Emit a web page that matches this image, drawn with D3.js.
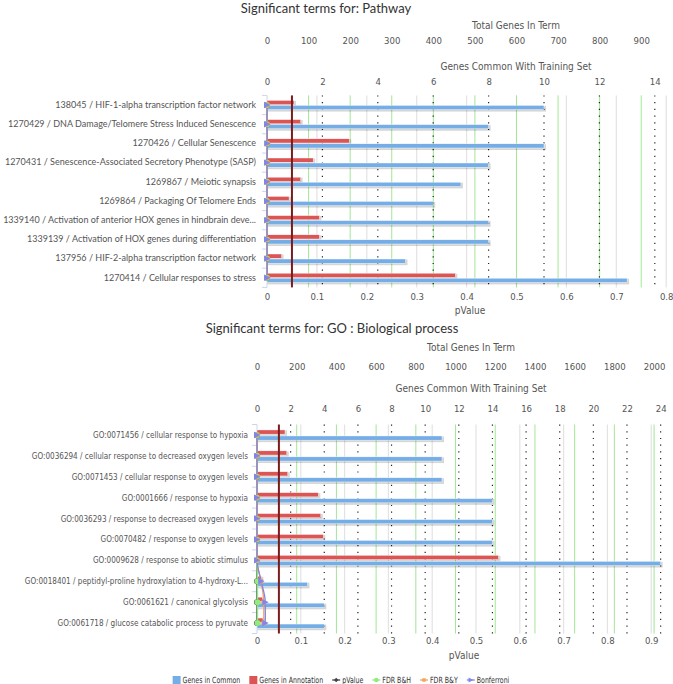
<!DOCTYPE html>
<html><head><meta charset="utf-8">
<script src="https://cdn.jsdelivr.net/npm/d3@7"></script>
<style>
body{margin:0;background:#fff;}
svg{display:block;}
.title{font-family:Lato,"Open Sans",sans-serif;font-size:13px;fill:#333;}
.lab{font-family:Lato,"Open Sans",sans-serif;fill:#333;}
.narrow{font-family:"Liberation Sans Narrow","Arial Narrow","DejaVu Sans Condensed",sans-serif;}
.tick text{fill:#555;}
</style></head><body>
<svg id="c" width="673" height="684"></svg>
<script>
// ---------- DATA ----------
const topTerms = [
  "138045 / HIF-1-alpha transcription factor network",
  "1270429 / DNA Damage/Telomere Stress Induced Senescence",
  "1270426 / Cellular Senescence",
  "1270431 / Senescence-Associated Secretory Phenotype (SASP)",
  "1269867 / Meiotic synapsis",
  "1269864 / Packaging Of Telomere Ends",
  "1339140 / Activation of anterior HOX genes in hindbrain deve...",
  "1339139 / Activation of HOX genes during differentiation",
  "137956 / HIF-2-alpha transcription factor network",
  "1270414 / Cellular responses to stress"
];
const topCommon = [10, 8, 10, 8, 7, 6, 8, 8, 5, 13];
const topTotal = [65, 81, 198, 111, 81, 53, 126, 126, 35, 453];
const topPValue = [1e-7, 4e-7, 6e-6, 8e-7, 5e-7, 3e-7, 1e-6, 1e-6, 2e-6, 3e-6];
const topFdrBH = [4e-6, 5e-6, 2e-5, 5e-6, 5e-6, 4e-6, 6e-6, 6e-6, 1e-5, 1.5e-5];
const topFdrBY = [3e-5, 4e-5, 1e-4, 4e-5, 4e-5, 3e-5, 5e-5, 5e-5, 8e-5, 1e-4];
const topBonferroni = [1e-5, 4e-5, 6e-4, 8e-5, 5e-5, 3e-5, 1e-4, 1e-4, 2e-4, 3e-4];
const topTotalTicks = [0, 100, 200, 300, 400, 500, 600, 700, 800, 900];
const topCommonTicks = [0, 2, 4, 6, 8, 10, 12, 14];
const topPTicks = [0, 0.1, 0.2, 0.3, 0.4, 0.5, 0.6, 0.7, 0.8];

const botTerms = [
  "GO:0071456 / cellular response to hypoxia",
  "GO:0036294 / cellular response to decreased oxygen levels",
  "GO:0071453 / cellular response to oxygen levels",
  "GO:0001666 / response to hypoxia",
  "GO:0036293 / response to decreased oxygen levels",
  "GO:0070482 / response to oxygen levels",
  "GO:0009628 / response to abiotic stimulus",
  "GO:0018401 / peptidyl-proline hydroxylation to 4-hydroxy-L...",
  "GO:0061621 / canonical glycolysis",
  "GO:0061718 / glucose catabolic process to pyruvate"
];
const botCommon = [11, 11, 11, 14, 14, 14, 24, 3, 4, 4];
const botTotal = [141, 150, 155, 309, 321, 334, 1216, 22, 28, 30];
const botPValue = [1e-9, 1e-9, 2e-9, 3e-9, 4e-9, 5e-9, 8e-9, 2e-5, 5e-5, 5e-5];
const botFdrBH = [1e-6, 1e-6, 1e-6, 1e-6, 1e-6, 1e-6, 2e-6, 0.001, 0.0012, 0.0012];
const botFdrBY = [1e-5, 1e-5, 1e-5, 1e-5, 1e-5, 1e-5, 2e-5, 0.009, 0.0155, 0.0155];
const botBonferroni = [2e-6, 2e-6, 3e-6, 4e-6, 5e-6, 6e-6, 1e-5, 0.0095, 0.019, 0.019];
const botTotalTicks = [0, 200, 400, 600, 800, 1000, 1200, 1400, 1600, 1800, 2000];
const botCommonTicks = [0, 2, 4, 6, 8, 10, 12, 14, 16, 18, 20, 22, 24];
const botPTicks = [0, 0.1, 0.2, 0.3, 0.4, 0.5, 0.6, 0.7, 0.8, 0.9];

const legendNames = ["Genes in Common", "Genes in Annotation", "pValue", "FDR B&H", "FDR B&Y", "Bonferroni"];
const pThreshold = 0.05;

// ---------- STYLE ----------
const C_COMMON = "#75aee6", C_ANNOT = "#dc5454", C_P = "#434348", C_BH = "#90ed7d",
      C_BY = "#f7a35c", C_BONF = "#8085e9", C_GRID = "#e3e3e3", C_GREEN = "#a3e696",
      C_THR = "#7a1c1c";

const svg = d3.select("#c");

function marker(sel, type, color) {
  if (type === "circle") sel.append("circle").attr("r", 3).attr("fill", color);
  else if (type === "diamond") sel.append("path").attr("d", "M0,-3L3,0L0,3L-3,0Z").attr("fill", color);
  else if (type === "square") sel.append("rect").attr("x", -2.3).attr("y", -2.3).attr("width", 4.6).attr("height", 4.6).attr("fill", color);
  else if (type === "triangle") sel.append("path").attr("d", "M-3,-3.2L3.4,0L-3,3.2Z").attr("fill", color);
}

function drawChart(cfg) {
  const g = svg.append("g");
  const xP = d3.scaleLinear().domain([0, cfg.pMax]).range([cfg.left, cfg.right]);
  const xT = d3.scaleLinear().domain([0, cfg.totalMax]).range([cfg.left, cfg.right]);
  const xC = d3.scaleLinear().domain([0, cfg.commonMax]).range([cfg.left, cfg.right]);
  const y = d3.scaleBand().domain(d3.range(cfg.terms.length)).range([cfg.plotTop, cfg.plotBottom]);
  const cy = i => y(i) + y.bandwidth() / 2;

  g.append("text").attr("class", "title").attr("x", cfg.titleX).attr("y", cfg.titleY)
    .attr("text-anchor", "middle").attr("dy", "0.35em").text(cfg.title);

  // top axes
  const axT = g.append("g").attr("class", "narrow").attr("transform", `translate(0,${cfg.totalTickY})`)
    .call(d3.axisTop(xT).tickValues(cfg.totalTicks).tickSize(0).tickFormat(d3.format("d")));
  const axC = g.append("g").attr("class", "narrow").attr("transform", `translate(0,${cfg.commonTickY})`)
    .call(d3.axisTop(xC).tickValues(cfg.commonTicks).tickSize(0).tickFormat(d3.format("d")));
  const axP = g.append("g").attr("class", "narrow").attr("transform", `translate(0,${cfg.pTickY})`)
    .call(d3.axisBottom(xP).tickValues(cfg.pTicks).tickSize(0).tickFormat(d => d === 0 ? "0" : d3.format(".1f")(d)));
  [axT, axC, axP].forEach(a => {
    a.select(".domain").remove();
    a.selectAll("text").attr("y", 0).attr("dy", "0.35em").attr("font-size", 9.5).attr("font-family", null);
  });
  const axTitle = (x, yy, t) => g.append("text").attr("class", "narrow").attr("x", x).attr("y", yy)
    .attr("dy", "0.35em").attr("text-anchor", "middle").attr("font-size", 10).attr("fill", "#555").text(t);
  axTitle(cfg.axisTitleX, cfg.totalTitleY, "Total Genes In Term");
  axTitle(cfg.axisTitleX, cfg.commonTitleY, "Genes Common With Training Set");
  axTitle((cfg.left + cfg.right) / 2 + 3, cfg.pTitleY, "pValue");

  // gridlines
  const vline = (arr, scale, color, dash, w) => g.append("g").selectAll("line").data(arr.filter(d => d > 0)).join("line")
    .attr("x1", d => scale(d)).attr("x2", d => scale(d)).attr("y1", cfg.plotTop).attr("y2", cfg.plotBottom)
    .attr("stroke", color).attr("stroke-width", w).attr("stroke-dasharray", dash);
  vline(cfg.pTicks, xP, C_GRID, null, 1.2);
  vline(cfg.totalTicks, xT, C_GREEN, null, 1);
  vline(cfg.commonTicks, xC, "#222", "1.2,5.5", 1.2);

  // left axis labels & ticks
  const pad = cfg.left - cfg.labelX;
  const axY = g.append("g").attr("transform", `translate(${cfg.left},0)`)
    .call(d3.axisLeft(y).tickSize(0).tickPadding(pad).tickFormat(i => cfg.terms[i]));
  axY.select(".domain").remove();
  axY.selectAll("text").attr("class", cfg.labelClass).attr("font-family", null)
    .style("font-size", cfg.labelSize + "px").attr("fill", "#333")
    .attr("x", -pad / cfg.labelSX).attr("transform", `scale(${cfg.labelSX},1)`);
  const bounds = d3.range(cfg.terms.length + 1).map(i => cfg.plotTop + i * y.bandwidth());
  g.append("g").selectAll("line").data(bounds).join("line")
    .attr("x1", cfg.left - 5).attr("x2", cfg.left).attr("y1", d => d).attr("y2", d => d)
    .attr("stroke", "#ccd6eb");
  g.append("line").attr("x1", cfg.left).attr("x2", cfg.left).attr("y1", cfg.plotTop).attr("y2", cfg.plotBottom)
    .attr("stroke", "#ccd6eb");

  // bars
  const bars = [
    {vals: cfg.total, scale: xT, color: C_ANNOT, off: cfg.redOff},
    {vals: cfg.common, scale: xC, color: C_COMMON, off: cfg.blueOff}
  ];
  bars.forEach(b => {
    const bg = g.append("g");
    bg.selectAll("rect.sh").data(b.vals).join("rect").attr("class", "sh")
      .attr("x", cfg.left + 0.5).attr("y", (d, i) => cy(i) + b.off + 0.5)
      .attr("width", d => b.scale(d) - cfg.left + 1.5).attr("height", cfg.barH + 1.5)
      .attr("fill", "#000").attr("opacity", 0.16);
    bg.selectAll("rect.bar").data(b.vals).join("rect").attr("class", "bar")
      .attr("x", cfg.left).attr("y", (d, i) => cy(i) + b.off)
      .attr("width", d => b.scale(d) - cfg.left).attr("height", cfg.barH)
      .attr("fill", b.color).attr("stroke", "#fff").attr("stroke-width", 0.4);
  });

  // threshold line
  g.append("line").attr("x1", xP(pThreshold)).attr("x2", xP(pThreshold))
    .attr("y1", cfg.plotTop).attr("y2", cfg.plotBottom).attr("stroke", C_THR).attr("stroke-width", 2);

  // p-value series
  const series = [
    {vals: cfg.pv, color: C_P, type: "circle"},
    {vals: cfg.bh, color: C_BH, type: "circle"},
    {vals: cfg.by, color: C_BY, type: "square"},
    {vals: cfg.bonf, color: C_BONF, type: "triangle"}
  ];
  series.forEach(s => {
    const line = d3.line().x(d => xP(d)).y((d, i) => cy(i)).curve(d3.curveMonotoneY);
    g.append("path").attr("d", line(s.vals)).attr("fill", "none").attr("stroke", s.color).attr("stroke-width", 1.3);
  });
  series.forEach(s => {
    s.vals.forEach((v, i) => {
      const m = g.append("g").attr("transform", `translate(${xP(v)},${cy(i)})`);
      marker(m, s.type, s.color);
    });
  });
}

drawChart({
  title: "Significant terms for: Pathway", titleX: 326, titleY: 8,
  terms: topTerms, common: topCommon, total: topTotal,
  pv: topPValue, bh: topFdrBH, by: topFdrBY, bonf: topBonferroni,
  totalTicks: topTotalTicks, commonTicks: topCommonTicks, pTicks: topPTicks,
  left: 267, right: 667, plotTop: 95.4, plotBottom: 287.4,
  pMax: 0.8016, totalMax: 962, commonMax: 14.44,
  totalTitleY: 25, totalTickY: 41, commonTitleY: 66, commonTickY: 82, axisTitleX: 516,
  pTickY: 297, pTitleY: 310, labelX: 256, labelClass: "lab", labelSize: 9, labelSX: 1,
  redOff: -4.6, blueOff: 0.4, barH: 4.2
});

drawChart({
  title: "Significant terms for: GO : Biological process", titleX: 332, titleY: 328,
  terms: botTerms, common: botCommon, total: botTotal,
  pv: botPValue, bh: botFdrBH, by: botFdrBY, bonf: botBonferroni,
  totalTicks: botTotalTicks, commonTicks: botCommonTicks, pTicks: botPTicks,
  left: 257, right: 665, plotTop: 424.5, plotBottom: 633.5,
  pMax: 0.9315, totalMax: 2055, commonMax: 24.26,
  totalTitleY: 347, totalTickY: 367, commonTitleY: 388, commonTickY: 409, axisTitleX: 471,
  pTickY: 641, pTitleY: 655, labelX: 248, labelClass: "lab narrow", labelSize: 9.5, labelSX: 0.85,
  redOff: -5, blueOff: 1, barH: 4.2
});

// legend
const lg = svg.append("g").attr("class", "narrow");
const legendTypes = ["rect", "rect", "circle", "circle", "square", "triangle"];
const legendColors = [C_COMMON, C_ANNOT, C_P, C_BH, C_BY, C_BONF];
const LSX = 0.82;
let lx = 0;
legendNames.forEach((name, i) => {
  const it = lg.append("g").attr("transform", `translate(${lx},680)`);
  let tx;
  if (legendTypes[i] === "rect") {
    it.append("rect").attr("x", 0).attr("y", -4).attr("width", 8).attr("height", 8).attr("fill", legendColors[i]);
    tx = 10;
  } else {
    it.append("line").attr("x1", 0).attr("x2", 8).attr("y1", 0).attr("y2", 0).attr("stroke", legendColors[i]).attr("stroke-width", 1.3);
    const m = it.append("g").attr("transform", "translate(4,0) scale(0.75)");
    marker(m, i === 2 ? "diamond" : legendTypes[i], legendColors[i]);
    tx = 10;
  }
  const t = it.append("text").attr("x", tx / LSX).attr("dy", "0.35em").attr("font-size", 8.5)
    .attr("transform", `scale(${LSX},1)`).attr("fill", "#333").text(name);
  lx += tx + t.node().getComputedTextLength() * LSX + 9;
});
const totalW = lx - 9;
lg.attr("transform", `translate(${341 - totalW / 2},0)`);
</script>
</body></html>
